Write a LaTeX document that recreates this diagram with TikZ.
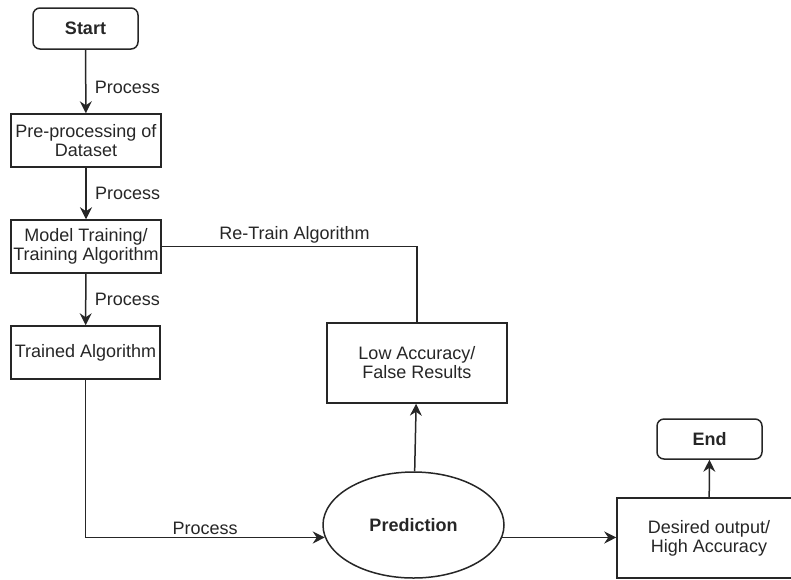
\documentclass[tikz,border=0pt]{standalone}
\usepackage{fontspec}
\setmainfont{Liberation Sans}
\usetikzlibrary{shapes,arrows.meta,positioning,calc}
\definecolor{inkgray}{RGB}{38,38,38}

\tikzset{
  block/.style={draw=inkgray,line width=1.5pt,align=center,inner sep=0pt,text=inkgray},
  terminal/.style={block,rounded corners=7pt,font=\fontsize{18}{19}\selectfont\bfseries},
  flow/.style={draw=inkgray,line width=1.5pt},
  lbl/.style={text=inkgray}
}

\begin{document}
\begin{tikzpicture}[x=1pt,y=-1pt,font=\fontsize{18}{19}\selectfont,>={Stealth[length=12pt,width=12pt,inset=4pt]}]
        \useasboundingbox (0,0) rectangle (791,579);
        \node [terminal,minimum width=105pt,minimum height=41pt] (start) at (85.5,28.5) {Start};
        \node [block,minimum width=150pt,minimum height=53pt] (prep) at (86,140.5) {Pre-processing of\\Dataset};
        \node [block,minimum width=150pt,minimum height=53pt] (model) at (86,246.5) {Model Training/\\Training Algorithm};
        \node [block,minimum width=149pt,minimum height=53pt] (trained) at (85.5,352.5) {Trained Algorithm};
        \node [block,minimum width=180pt,minimum height=80pt] (low) at (417,363) {Low Accuracy/\\False Results};
        \node [block,ellipse,minimum width=181pt,minimum height=106pt,font=\fontsize{18}{19}\selectfont\bfseries] (pred) at (413.5,525) {Prediction};
        \node [block,minimum width=184pt,minimum height=80pt] (desired) at (709,538) {Desired output/\\High Accuracy};
        \node [terminal,minimum width=105pt,minimum height=40pt] (end) at (709.5,439) {End};
        \coordinate (turn) at (low.north |- model.east);
        \draw [flow,->] (start) -- (prep) node [lbl,pos=0.6,right=5pt] {Process};
        \draw [flow,->] (prep) -- (model) node [lbl,midway,right=5pt] {Process};
        \draw [flow,->] (model) -- (trained) node [lbl,midway,right=5pt] {Process};
        \draw [flow] (model.east) -- (turn) node [lbl,pos=0.52,above=-1pt] {Re-Train Algorithm} -- (low.north);
        \draw [flow,->] (trained.south) |- (pred.188) node [lbl,pos=0.75,above=-1pt] {Process};
        \draw [flow,->] (pred) -- (low);
        \draw [flow,->] (pred.352) -- (pred.352 -| desired.west);
        \draw [flow,->] (desired) -- (end);
\end{tikzpicture}
\end{document}
